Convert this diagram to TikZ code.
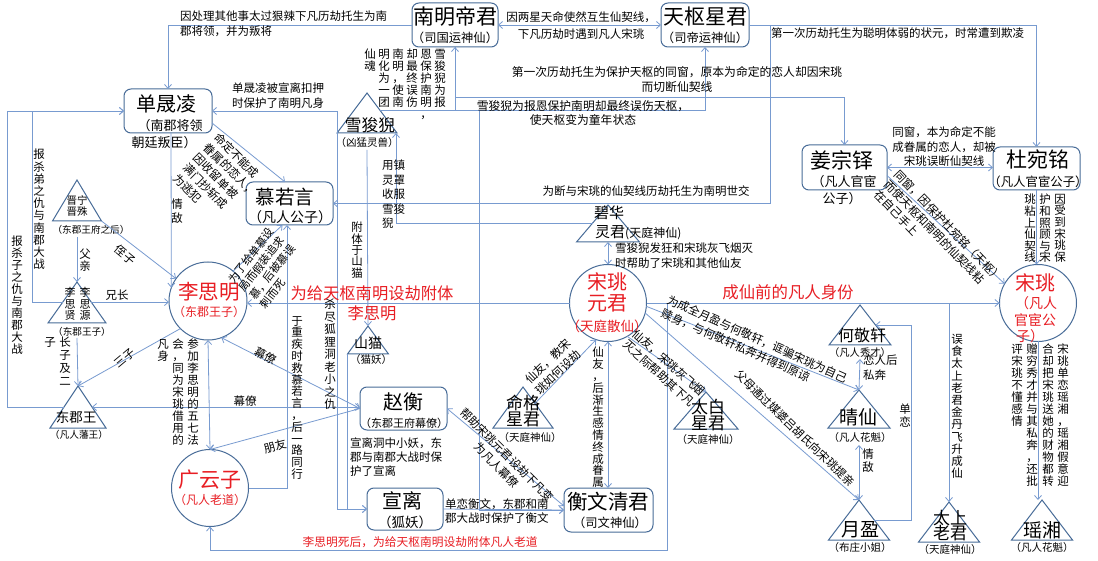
\documentclass[tikz,border=0pt]{standalone}
\usepackage{fontspec}
\setmainfont{Noto Sans CJK SC}
\usetikzlibrary{arrows.meta,calc}
\definecolor{lnc}{RGB}{120,155,208}
\definecolor{ndc}{RGB}{72,108,152}
\definecolor{rdc}{RGB}{232,30,36}
\newcommand\fs[1]{\fontsize{#1}{#1}\selectfont}
\ExplSyntaxOn
\NewDocumentCommand\vt{O{12}m}{\vtop{\baselineskip=#1pt\lineskip=0pt\lineskiplimit=-\maxdimen\tl_map_inline:nn{#2}{\hbox_to_wd:nn{1em}{\hss##1\hss}}}}
\ExplSyntaxOff
\tikzset{
  conn/.style={draw=lnc,line width=0.8pt},
  arr/.style={conn,-{Straight Barb[length=4pt,width=7pt]}},
  arr2/.style={conn,{Straight Barb[length=4pt,width=7pt]}-{Straight Barb[length=4pt,width=7pt]}},
  box/.style={draw=ndc,line width=1pt,rounded corners=7pt,inner sep=0pt,outer sep=0pt},
  circ/.style={draw=ndc,line width=1pt,circle,inner sep=0pt,outer sep=0pt},
  tribox/.style={inner sep=0pt,outer sep=0pt},
  triline/.style={draw=ndc,line width=1pt,line join=miter},
  txt/.style={inner sep=0pt},
  redt/.style={text=rdc},
  lab/.style={inner sep=0pt,font=\fs{11.5}},
  mlab/.style={inner sep=0pt,align=left,font=\fontsize{11.5}{14.5}\selectfont},
  clab/.style={inner sep=0pt,align=center,font=\fontsize{11.5}{14.5}\selectfont},
}
\newcommand\tri[5]{%
  \node[tribox,minimum width={2*#5*1pt},minimum height={(#4-#3)*1pt}] (#1) at (#2,{(#3+#4)/2}) {};
  \draw[triline] (#1.south west) -- (#1.north) -- (#1.south east) -- cycle;}
\begin{document}
\begin{tikzpicture}[x=1pt,y=-1pt]
\fill[white] (0,0) rectangle (1098,561);
\useasboundingbox (0,0) rectangle (1098,561);

% ---------- boxes ----------
\node[box,minimum width=86pt,minimum height=44pt] (nanming) at (455,25) {};
\node[box,minimum width=88pt,minimum height=44pt] (tianshu) at (705,25) {};
\node[box,minimum width=88pt,minimum height=44pt] (shan) at (168,111) {};
\node[box,minimum width=87pt,minimum height=43pt] (mu) at (289.5,203.5) {};
\node[box,minimum width=87pt,minimum height=43pt] (zhao) at (403.5,408.5) {};
\node[box,minimum width=76pt,minimum height=42pt] (xuan) at (405,509) {};
\node[box,minimum width=89pt,minimum height=44pt] (hengwen) at (608.5,510) {};
\node[box,minimum width=85pt,minimum height=45pt] (jiang) at (844.5,167.5) {};
\node[box,minimum width=87pt,minimum height=43pt] (du) at (1036.5,168.5) {};
% ---------- circles ----------
\node[circ,minimum size=78pt] (lsm) at (208,301) {};
\node[circ,minimum size=77pt] (gyz) at (210,488) {};
\node[circ,minimum size=77pt] (syy) at (608,303) {};
\node[circ,minimum size=77pt] (syf) at (1038,303) {};
% ---------- triangles ----------
\tri{xsn}{367}{93}{133}{30}
\tri{jn}{77}{180}{221}{24.5}
\tri{lsy}{77}{282}{323}{29}
\tri{djw}{78}{386}{428}{28}
\tri{sm}{368}{326}{354}{20.5}
\tri{bh}{608}{205}{242}{31.5}
\tri{mg}{523}{387}{428}{30}
\tri{tb}{706}{392}{429}{32}
\tri{hjx}{860}{305}{345}{31}
\tri{qx}{859}{390}{428}{31}
\tri{yy}{859}{500}{540}{30.5}
\tri{tslj}{949}{502}{542}{30.5}
\tri{yx}{1042}{500}{540}{30.5}

% ---------- node texts ----------
\node[txt,font=\fs{21}] (t1a) at (455,17) {南明帝君};
\node[txt,font=\fs{12.3}] (t1b) at (455,38) {（司国运神仙）};
\node[txt,font=\fs{21}] (t2a) at (705,17) {天枢星君};
\node[txt,font=\fs{12.3}] (t2b) at (705,38) {（司帝运神仙）};
\node[txt,font=\fs{20}] (t3a) at (166,104) {单晟凌};
\node[txt,font=\fs{13}] (t3b) at (170,126) {（南郡将领};
\node[txt,font=\fs{13}] (t3c) at (164,143) {朝廷叛臣）};
\node[txt,font=\fs{19.5}] (t4a) at (285,197) {慕若言};
\node[txt,font=\fs{14}] (t4b) at (290,217) {（凡人公子）};
\node[txt,font=\fs{20}] (t5a) at (403,402) {赵衡};
\node[txt,font=\fs{11}] (t5b) at (404,423) {（东郡王府幕僚）};
\node[txt,font=\fs{20}] (t6a) at (402,501) {宣离};
\node[txt,font=\fs{13.5}] (t6b) at (405,522) {（狐妖）};
\node[txt,font=\fs{20.5}] (t7a) at (608,502) {衡文清君};
\node[txt,font=\fs{12.3}] (t7b) at (610,523) {（司文神仙）};
\node[txt,font=\fs{21}] (t8a) at (842,160) {姜宗铎};
\node[txt,font=\fs{13}] (t8b) at (844,182) {（凡人官宦};
\node[txt,font=\fs{13}] (t8c) at (842,199) {公子）};
\node[txt,font=\fs{21}] (t9a) at (1038,160) {杜宛铭};
\node[txt,font=\fs{12.4}] (t9b) at (1038,182) {（凡人官宦公子）};
\node[txt,redt,font=\fs{20.5}] (t10a) at (209,292) {李思明};
\node[txt,redt,font=\fs{12}] (t10b) at (209,312) {（东郡王子）};
\node[txt,redt,font=\fs{21}] (t11a) at (210,480) {广云子};
\node[txt,redt,font=\fs{12}] (t11b) at (210,500) {（凡人老道）};
\node[txt,redt,font=\fs{20}] (t12a) at (607,282) {宋珧};
\node[txt,redt,font=\fs{20}] (t12b) at (607,303) {元君};
\node[txt,redt,font=\fs{13.5}] (t12c) at (607,326) {（天庭散仙）};
\node[txt,redt,font=\fs{20}] (t13a) at (1035,283) {宋珧};
\node[txt,redt,font=\fs{14}] (t13b) at (1036,303) {（凡人};
\node[txt,redt,font=\fs{14}] (t13c) at (1035,320) {官宦公};
\node[txt,redt,font=\fs{14}] (t13d) at (1030,336) {子）};
% triangle texts
\node[txt,font=\fs{16.7}] (t14a) at (370,125) {雪狻猊};
\node[txt,font=\fs{10.5}] (t14b) at (367,143) {（凶猛灵兽）};
\node[txt,font=\fs{10.5},align=center] (t15a) at (77,206) {晋宁\\[1pt]晋殊};
\node[txt,font=\fs{9.6}] (t15b) at (91,230) {（东郡王府之后）};
\node[txt,font=\fs{11}] (t16a) at (70,304) {\vt[11.5]{李思贤}};
\node[txt,font=\fs{11}] (t16b) at (85,304) {\vt[11.5]{李思源}};
\node[txt,font=\fs{9.6}] (t16c) at (82,332) {（东郡王子）};
\node[txt,font=\fs{13.5}] (t17a) at (76,417) {东郡王};
\node[txt,font=\fs{9.7}] (t17b) at (79,435) {（凡人藩王）};
\node[txt,font=\fs{14}] (t18a) at (368,343) {山猫};
\node[txt,font=\fs{10.5}] (t18b) at (371,360) {（猫妖）};
\node[txt,font=\fs{15}] (t19a) at (609,213) {碧华};
\node[txt,font=\fs{15},anchor=west] (t19b) at (595,233) {灵君\fs{12}(天庭神仙)};
\node[txt,font=\fs{17},align=center] (t20a) at (523,411) {命格\\[-1pt]星君};
\node[txt,font=\fs{10.5}] (t20b) at (530,438) {（天庭神仙）};
\node[txt,font=\fs{17},align=center] (t21a) at (708,415) {太白\\[-1pt]星君};
\node[txt,font=\fs{10.5}] (t21b) at (708,440) {（天庭神仙）};
\node[txt,font=\fs{16}] (t22a) at (862,335) {何敬轩};
\node[txt,font=\fs{10.3}] (t22b) at (860,353) {（凡人秀才）};
\node[txt,font=\fs{19}] (t23a) at (858,417) {晴仙};
\node[txt,font=\fs{10.5}] (t23b) at (860,438) {（凡人花魁）};
\node[txt,font=\fs{19}] (t24a) at (860,530) {月盈};
\node[txt,font=\fs{10.5}] (t24b) at (860,548) {（布庄小姐）};
\node[txt,font=\fs{17},align=center] (t25a) at (950,526) {太上\\[-2pt]老君};
\node[txt,font=\fs{10.5}] (t25b) at (950,550) {（天庭神仙）};
\node[txt,font=\fs{19}] (t26a) at (1042,530) {瑶湘};
\node[txt,font=\fs{10.5}] (t26b) at (1042,548) {（凡人花魁）};

% ---------- helper points on triangle sides ----------
\coordinate (xsnR) at ($(xsn.north)!0.425!(xsn.south east)$);
\coordinate (bhL) at ($(bh.north)!0.49!(bh.south west)$);
\coordinate (lsyL) at ($(lsy.north)!0.49!(lsy.south west)$);
\coordinate (lsyR) at ($(lsy.north)!0.49!(lsy.south east)$);
\coordinate (djwL) at ($(djw.north)!0.5!(djw.south west)$);
\coordinate (djwR) at ($(djw.north)!0.5!(djw.south east)$);
\coordinate (mgR) at ($(mg.north)!0.4!(mg.south east)$);
\coordinate (yyR) at ($(yy.north)!0.5!(yy.south east)$);
\coordinate (hjxR) at ($(hjx.north)!0.5!(hjx.south east)$);

% ---------- connectors ----------
\draw[arr] (nanming.west) -| (shan.north);
\draw[arr2] (nanming.east) -- (tianshu.west);
\draw[arr] (tianshu.east) -| (du.north);
\draw[arr] (tianshu.east) -- (770,25) |- (mu.east);
\draw[arr] (nanming.south) -- (455,97) -| (jiang.north);
\draw[arr] (xsnR) -| (nanming.south);
\draw[arr] (xsnR) -| (tianshu.south);
\draw[arr] (xsnR) -| (479,510) -- (hengwen.west);
\draw[arr] (xuan.east) -- (hengwen.west);
\draw[arr] ([yshift=-17pt]xsn.south) -- (sm.north);
\draw[arr] (bhL) -| ([xshift=-1pt]xsn.south east);
\draw[arr2] (shan.east) -- (337,111) |- (xuan.west);
\draw[arr] (sm.south west) |- (xuan.west);
\draw[arr] (gyz.east) -| ([xshift=-2.5pt]mu.south);
\draw[arr] (lsm.50) -- ([xshift=-7pt]mu.south);
\draw[arr] ([yshift=10pt]shan.south east) -- ([xshift=-4.5pt]mu.north);
\draw[arr] ([xshift=3pt]shan.south) -- (lsm.160);
\draw[arr] (lsyL) -| (32,111) -- (shan.west);
\draw[arr] (djwL) -| (7,111) -- (shan.west);
\draw[arr] (lsyR) -- (lsm.west |- lsyR);
\draw[arr] (jn.south east) -- (lsm.145);
\draw[arr] ([yshift=-16pt]jn.south) -- (lsy.north);
\draw[arr] ([yshift=-15pt]lsy.south) -- (djw.north);
\draw[arr] (lsm.225) -- (djw.north);
\draw[arr2] (djwR) -- (zhao.west |- djwR);
\draw[arr2] (lsm.290) -- (zhao.west);
\draw[arr] (zhao.west) -- (gyz.north);
\draw[arr2] (lsm.south) -- (gyz.north);
\draw[arr] (syy.west) -- (lsm.east |- syy.west);
\draw[arr] (syy.east) -- (syf.west);
\draw[arr] (syy.east) -- (667,303) |- (210,550) -- (gyz.south);
\draw[arr2] (bh.south) -- (syy.north);
\draw[arr] (mgR) -- (syy.252);
\draw[arr2] (syy.south) -- (hengwen.north -| syy.south);
\draw[arr] (syy.300) -- (tb.north);
\draw[arr2] (zhao.east) -- ([yshift=4pt]hengwen.west);
\draw[arr] (syy.-5) -- (qx.north);
\draw[arr] (syy.-15) -- (yy.north);
\draw[arr2] ([yshift=-14pt]hjx.south) -- (qx.north);
\draw[arr] (yyR) -- (911,520) |- (hjxR);
\draw[arr2] ([yshift=-17pt]qx.south) -- (yy.north);
\draw[arr] (syf.west) -| (tslj.north);
\draw[arr] (syf.south) -- (yx.north -| syf.south);
\draw[arr] (du.south) -- (syf.north -| du.south);
\draw[arr2] (jiang.east) -- (du.west |- jiang.east);
\draw[arr] ([yshift=-8pt]jiang.east) -- (syf.150);

% ---------- labels ----------
\node[mlab,anchor=north west] (l1) at (180,11) {因处理其他事太过狠辣下凡历劫托生为南\\郡将领，并为叛将};
\node[clab,font=\fontsize{11.5}{17}\selectfont] (l2) at (581,25.5) {因两星天命使然互生仙契线，\\下凡历劫时遇到凡人宋珧};
\node[lab,anchor=west] (l3) at (771,33) {第一次历劫托生为聪明体弱的状元，时常遭到欺凌};
\node[lab] (l4) at (646,191) {为断与宋珧的仙契线历劫托生为南明世交};
\node[clab,font=\fontsize{11.8}{15}\selectfont] (l5) at (677,79.5) {第一次历劫托生为保护天枢的同窗，原本为命定的恋人却因宋珧\\而切断仙契线};
\node[lab,anchor=north] (l6a) at (440,49) {\vt{雪狻猊为报}};
\node[lab,anchor=north] (l6b) at (426,49) {\vt{恩保护南明，}};
\node[lab,anchor=north] (l6c) at (412,49) {\vt{却最终误伤}};
\node[lab,anchor=north] (l6d) at (398,49) {\vt{南明，使南}};
\node[lab,anchor=north] (l6e) at (384,49) {\vt{明化为一团}};
\node[lab,anchor=north] (l6f) at (370,49) {\vt{仙魂}};
\node[clab,font=\fontsize{11.8}{14}\selectfont] (l7) at (583,113) {雪狻猊为报恩保护南明却最终误伤天枢，\\使天枢变为童年状态};
\node[lab,anchor=north] (l8) at (357,222) {\vt[11.3]{附体于山猫}};
\node[mlab,anchor=north west,font=\fontsize{11.5}{14.5}\selectfont] (l9) at (382,160) {用镇\\灵罩\\收服\\雪狻\\猊};
\node[mlab,anchor=north west,font=\fontsize{11.5}{15}\selectfont] (l10) at (232,83) {单晟凌被宣离扣押\\时保护了南明凡身};
\node[lab,anchor=north] (l11) at (330,299) {\vt[12.5]{杀尽狐狸洞老小之仇}};
\node[mlab,anchor=north west,font=\fontsize{11.5}{14}\selectfont] (l12) at (350,438) {宣离洞中小妖，东\\郡与南郡大战时保\\护了宣离};
\node[lab,anchor=north] (l13) at (297,316) {\vt[11.8]{于重疾时救慕若言，后一路同行}};
\node[mlab,rotate=52,font=\fontsize{11}{13.5}\selectfont] (l14) at (267,268) {为了给单慕设\\局而假装追求\\慕，后被慕误\\刺而死};
\node[mlab,rotate=-45,anchor=north west] (l15) at (220,131) {命定不能成\\眷属的恋人，\\因收留单被\\满门抄斩成\\为逃犯};
\node[lab,anchor=north] (l16) at (177,199) {\vt[14]{情敌}};
\node[lab,anchor=north] (l17) at (39,149) {\vt[12.2]{报杀弟之仇与南郡大战}};
\node[lab,anchor=north] (l18) at (17,236) {\vt[12]{报杀子之仇与南郡大战}};
\node[lab] (l19) at (117,295) {兄长};
\node[lab,rotate=-40] (l20) at (125,255) {侄子};
\node[lab,anchor=north] (l21) at (85,249) {\vt[12]{父亲}};
\node[lab,anchor=north] (l22a) at (65,337) {\vt[13]{长子及二}};
\node[lab,anchor=north] (l22b) at (50,337) {\vt[13]{子}};
\node[lab,rotate=40] (l23) at (125,358) {三子};
\node[lab] (l24) at (245,401) {幕僚};
\node[lab,rotate=-28] (l25) at (266,356) {幕僚};
\node[lab,rotate=15] (l26) at (275,446) {朋友};
\node[lab,anchor=north] (l27a) at (193,339) {\vt[11.9]{参加李思明的五七法}};
\node[lab,anchor=north] (l27b) at (178,339) {\vt[11.9]{会，同为宋珧借用的}};
\node[lab,anchor=north] (l27c) at (163,339) {\vt[11.9]{凡身}};
\node[txt,redt,align=center,font=\fontsize{16.3}{20}\selectfont] (l28) at (372,303) {为给天枢南明设劫附体\\李思明};
\node[txt,redt,font=\fs{16.4}] (l29) at (788,292) {成仙前的凡人身份};
\node[txt,redt,font=\fs{11.75}] (l30) at (420,542) {李思明死后，为给天枢南明设劫附体凡人老道};
\node[mlab,anchor=north west,font=\fontsize{11.5}{15}\selectfont] (l31) at (615,243) {雪狻猊发狂和宋珧灰飞烟灭\\时帮助了宋珧和其他仙友};
\node[mlab,rotate=44] (l32) at (553,367) {仙友，教宋\\珧如何设劫};
\node[lab,anchor=north] (l33) at (598,347) {\vt[11.8]{仙友，后渐生感情终成眷属}};
\node[mlab,rotate=-42] (l34) at (664,368) {仙友，宋珧灰飞烟\\灭之际帮助其下凡};
\node[clab,rotate=-45] (l35) at (502,460) {帮助宋珧元君设劫下凡变\\为凡人幕僚};
\node[mlab,anchor=north west,font=\fontsize{11.5}{13.5}\selectfont] (l36) at (445,499) {单恋衡文，东郡和南\\郡大战时保护了衡文};
\node[mlab,rotate=-24,anchor=north west] (l37) at (670,294) {为成全月盈与何敬轩，诓骗宋珧为自己\\赎身，与何敬轩私奔并得到原谅};
\node[lab,rotate=-44] (l38) at (795,428) {父母通过媒婆吕胡氏向宋珧提亲};
\node[mlab,anchor=north west,font=\fontsize{11.5}{15}\selectfont] (l39) at (863,355) {恋人后\\私奔};
\node[lab,anchor=north] (l40) at (905,404) {\vt[13]{单恋}};
\node[lab,anchor=north] (l41) at (868,449) {\vt[13]{情敌}};
\node[lab,anchor=north] (l42) at (957,334) {\vt[12.2]{误食太上老君金丹飞升成仙}};
\node[lab,anchor=north] (l43a) at (1063,344) {\vt[12]{宋珧单恋瑶湘，瑶湘假意迎}};
\node[lab,anchor=north] (l43b) at (1048,344) {\vt[12]{合却把宋珧送她的财物都转}};
\node[lab,anchor=north] (l43c) at (1032,344) {\vt[12]{赠穷秀才并与其私奔，还批}};
\node[lab,anchor=north] (l43d) at (1017,344) {\vt[12]{评宋珧不懂感情}};
\node[lab,anchor=north] (l44a) at (1060,194) {\vt[11.6]{因受到宋珧保}};
\node[lab,anchor=north] (l44b) at (1045,194) {\vt[11.6]{护和照顾与宋}};
\node[lab,anchor=north] (l44c) at (1030,194) {\vt[11.6]{珧粘上仙契线}};
\node[clab] (l45) at (944,147) {同窗，本为命定不能\\成眷属的恋人，却被\\宋珧误断仙契线};
\node[mlab,rotate=-46,anchor=north west] (l46) at (901,168) {同窗，因保护杜宛铭（天枢）\\而使天枢和南明的仙契线粘\\在自己手上};
\end{tikzpicture}
\end{document}
